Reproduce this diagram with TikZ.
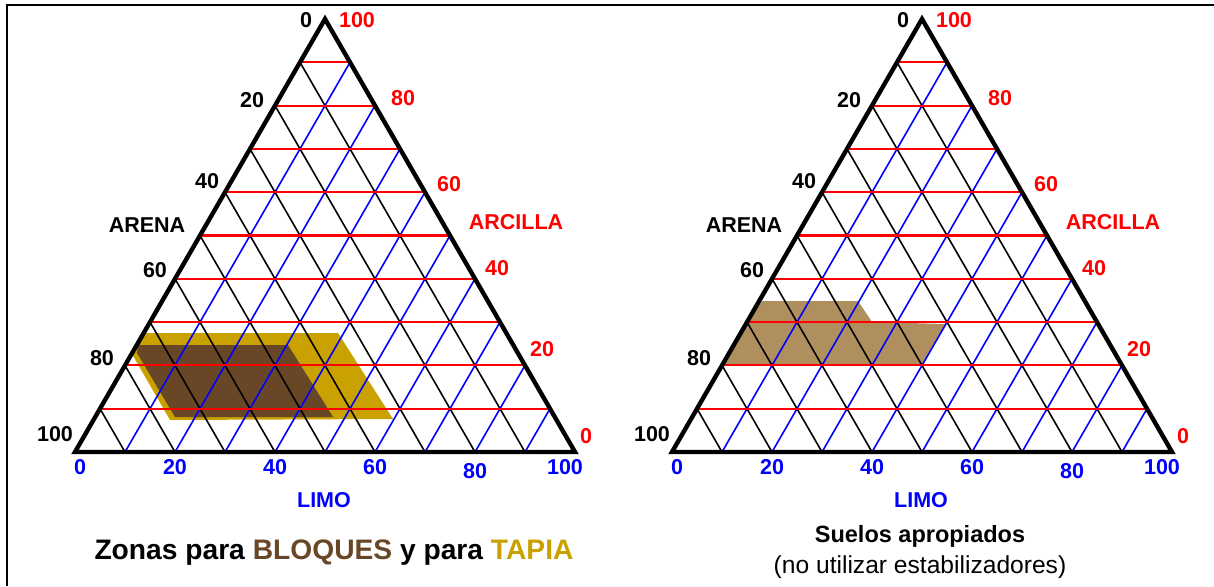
\documentclass[tikz,border=0pt]{standalone}
\usepackage{fontspec}
\setmainfont{Liberation Sans}
\definecolor{bloq}{RGB}{104,71,38}
\definecolor{tapiac}{RGB}{201,161,0}
\definecolor{suelo}{RGB}{176,143,94}
\tikzset{
  outline/.style={black, line width=4.4pt, line join=miter},
  gridk/.style={black, line width=1.6pt},
  gridb/.style={blue, line width=1.6pt},
  gridr/.style={red, line width=2.1pt},
  lab/.style={font=\fontsize{21.5}{25}\selectfont\bfseries, inner sep=0pt},
  frame/.style={black, line width=2pt},
}
\newcommand\ternplot[2]{%
  \begin{scope}[xshift=#1]
    \coordinate (#2A) at (250,19);
    \coordinate (#2L) at (0,452);
    \coordinate (#2R) at (500,452);
    \foreach \i in {1,...,9}{
      \draw[gridk] (250-25*\i,19+43.3*\i) -- (500-50*\i,452);
      \draw[gridb] (50*\i,452) -- (250+25*\i,19+43.3*\i);
    }
    \foreach \i in {1,...,9}{
      \draw[gridr] (250-25*\i,19+43.3*\i) -- (250+25*\i,19+43.3*\i);
    }
    \draw[outline] (#2A) -- (#2L) -- (#2R) -- cycle;
    % ARENA
    \node[lab] (#2s0) at (231,20) {0};
    \node[lab] (#2s20) at (177,100) {20};
    \node[lab] (#2s40) at (132,181) {40};
    \node[lab] (#2s60) at (80,270) {60};
    \node[lab] (#2s80) at (27,358) {80};
    \node[lab] (#2s100) at (-20,434) {100};
    \node[lab] (#2sand) at (72,225) {ARENA};
    % ARCILLA
    \node[lab,red] (#2c100) at (282,20) {100};
    \node[lab,red] (#2c80) at (328,98) {80};
    \node[lab,red] (#2c60) at (374,184) {60};
    \node[lab,red] (#2c40) at (422,268) {40};
    \node[lab,red] (#2c20) at (467,349) {20};
    \node[lab,red] (#2c0) at (511,436) {0};
    \node[lab,red] (#2clay) at (441,222) {ARCILLA};
    % LIMO
    \node[lab,blue] (#2l0) at (5,467) {0};
    \node[lab,blue] (#2l20) at (100,467) {20};
    \node[lab,blue] (#2l40) at (200,467) {40};
    \node[lab,blue] (#2l60) at (300,467) {60};
    \node[lab,blue] (#2l80) at (400,471) {80};
    \node[lab,blue] (#2l100) at (490,467) {100};
    \node[lab,blue] (#2silt) at (249,500) {LIMO};
  \end{scope}}
\begin{document}
\begin{tikzpicture}[x=1pt,y=-1pt]
  \useasboundingbox (0,0) rectangle (1214,586);
  \coordinate (fTL) at (7,5);
  \coordinate (fTR) at (1214,5);
  \coordinate (fBL) at (7,586);
  \draw[frame] (fTR) -- (fTL) -- (fBL);
  % zones, left
  \fill[tapiac] (143,333) -- (338,333) -- (393,419) -- (170,420) -- (132,354) -- cycle;
  \fill[bloq] (138,345) -- (288,345) -- (333,417) -- (175,417) -- (137,353) -- cycle;
  % zone, right
  \fill[suelo] (762,301) -- (858,301) -- (872,322) -- (945,324) -- (922,364) -- (723,364) -- cycle;
  \ternplot{75pt}{a}
  \ternplot{672pt}{b}
  % captions
  \node[font=\fontsize{28.2}{33}\selectfont\bfseries, anchor=base, inner sep=0pt] (capL) at (334,559)
    {Zonas para \textcolor{bloq}{BLOQUES} y para \textcolor{tapiac}{TAPIA}};
  \node[font=\fontsize{23.5}{28}\selectfont\bfseries, anchor=base, inner sep=0pt] (capR1) at (920,542)
    {Suelos apropiados};
  \node[font=\fontsize{24.6}{29}\selectfont, anchor=base, inner sep=0pt] (capR2) at (920,573)
    {(no utilizar estabilizadores)};
\end{tikzpicture}
\end{document}
